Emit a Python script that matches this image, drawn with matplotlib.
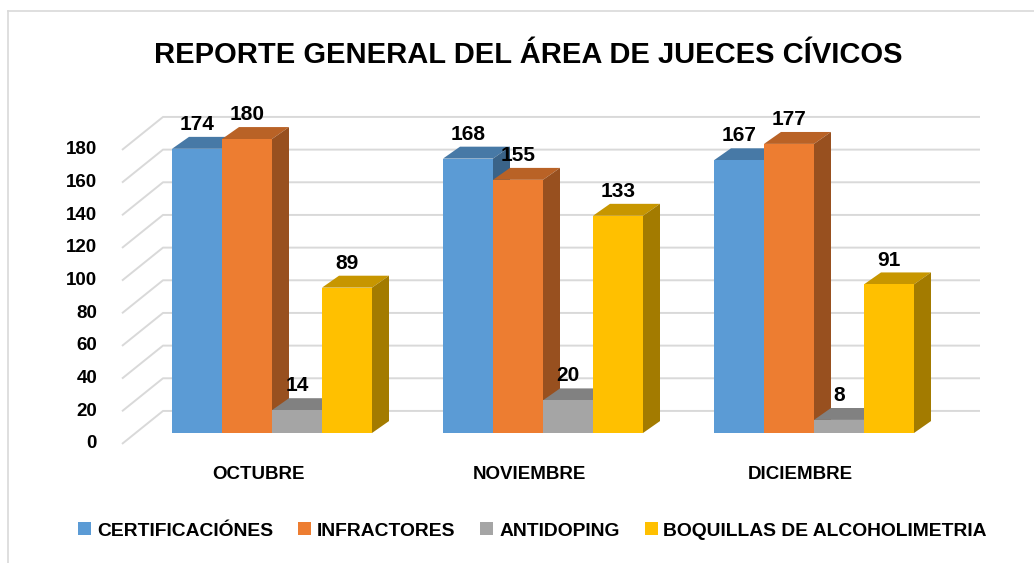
import matplotlib.pyplot as plt
from matplotlib.patches import Polygon, Patch
from matplotlib.lines import Line2D
from matplotlib.colors import to_rgb

plt.rcParams['font.family'] = ['Liberation Sans', 'DejaVu Sans']
plt.rcParams['font.weight'] = 'bold'

# Datos
meses = ["OCTUBRE", "NOVIEMBRE", "DICIEMBRE"]
series = ["CERTIFICACIÓNES", "INFRACTORES", "ANTIDOPING", "BOQUILLAS DE ALCOHOLIMETRIA"]
certificaciones = [174, 168, 167]
infractores = [180, 155, 177]
antidoping = [14, 20, 8]
boquillas = [89, 133, 91]
colores = ["#5b9bd5", "#ed7d31", "#a5a5a5", "#ffc000"]
ticks = [0, 20, 40, 60, 80, 100, 120, 140, 160, 180]

valores = [certificaciones, infractores, antidoping, boquillas]

# Geometria del efecto 3D (unidades de datos)
DX, DY = 0.34, 7.3          # profundidad de cada barra
PASO = 5.42                 # separacion entre grupos
WALL_X, WALL_Y = -0.18, 13.5   # pared del fondo
FRONT_X, FRONT_Y = -1.0, -6.7  # borde frontal del piso
GRID_END = 16.16


def oscurecer(c, f):
    r, g, b = to_rgb(c)
    return (r * f, g * f, b * f)


fig = plt.figure(figsize=(10.34, 5.63), dpi=100)
ax = fig.add_axes([0, 0, 1, 1])
ax.set_xlim(-3.44, 17.24)
ax.set_ylim(-79.6, 265.1)
ax.axis('off')

# Rejilla: diagonal en el piso/lateral y linea en la pared del fondo
for v in ticks:
    ax.plot([FRONT_X, WALL_X, GRID_END], [v + FRONT_Y, v + WALL_Y, v + WALL_Y],
            color="#d9d9d9", lw=1.4, zorder=1, solid_capstyle='butt')
    ax.text(-1.5, v + FRONT_Y, str(v), ha='right', va='center', fontsize=13.5,
            fontweight='bold')

# Barras
z = 3
for g, mes in enumerate(meses):
    for i, serie in enumerate(series):
        h = valores[i][g]
        x0 = g * PASO + i
        c = colores[i]
        ax.bar(x0, h, width=1, align='edge', color=c, zorder=z + 2, linewidth=0)
        top = Polygon([(x0, h), (x0 + 1, h), (x0 + 1 + DX, h + DY), (x0 + DX, h + DY)],
                      closed=True, facecolor=oscurecer(c, 0.78), edgecolor='none', zorder=z)
        side = Polygon([(x0 + 1, 0), (x0 + 1 + DX, DY), (x0 + 1 + DX, h + DY), (x0 + 1, h)],
                       closed=True, facecolor=oscurecer(c, 0.64), edgecolor='none', zorder=z + 1)
        ax.add_patch(top)
        ax.add_patch(side)
        ax.text(x0 + 0.5, h + DY + 7.6, str(h), ha='center', va='center', fontsize=15,
                fontweight='bold', zorder=100)
        z += 3
    ax.text(g * PASO + 2 - 0.27, -25.7, mes, ha='center', va='center', fontsize=13.5,
            fontweight='bold')

# Titulo
fig.text(0.511, 0.902, "REPORTE GENERAL DEL ÁREA DE JUECES CÍVICOS", ha='center',
         va='center', fontsize=21, fontweight='bold')

# Leyenda
handles = [Patch(facecolor=c, edgecolor='none') for c in colores]
fig.legend(handles, series, loc='center', bbox_to_anchor=(0.515, 0.057), ncol=4,
           frameon=False, handlelength=0.67, handleheight=0.67,
           handletextpad=0.3, columnspacing=1.3, prop={'weight': 'bold', 'size': 13.9})

# Borde del grafico
fig.add_artist(Line2D([8 / 1034, 1], [1 - 11 / 563, 1 - 11 / 563], color="#d9d9d9", lw=1.2))
fig.add_artist(Line2D([8 / 1034, 8 / 1034], [0, 1 - 11 / 563], color="#d9d9d9", lw=1.2))

fig.savefig("out.png", dpi=100)
